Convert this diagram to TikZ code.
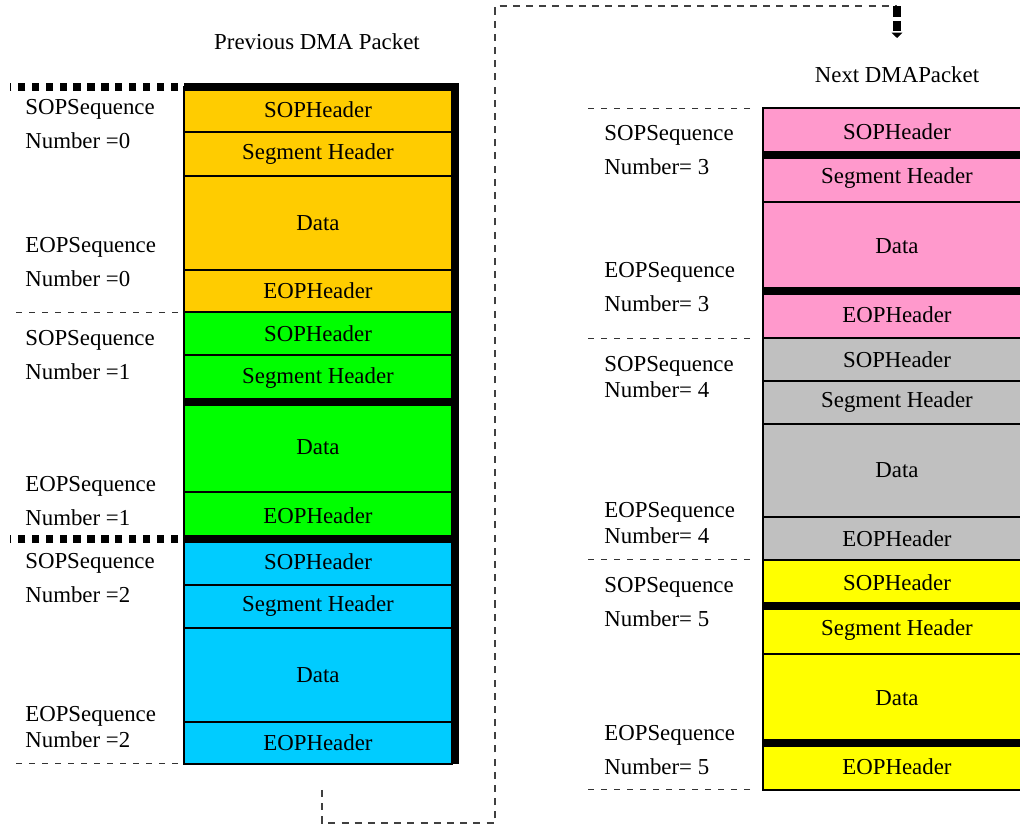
\documentclass[tikz,border=0pt]{standalone}
\usepackage{fontspec}
\setmainfont{Liberation Serif}
\usetikzlibrary{arrows.meta,positioning,calc}

\definecolor{prevA}{HTML}{FFCC00}
\definecolor{prevB}{HTML}{00FF00}
\definecolor{prevC}{HTML}{00CCFF}
\definecolor{nextA}{HTML}{FF99CC}
\definecolor{nextB}{HTML}{C0C0C0}
\definecolor{nextC}{HTML}{FFFF00}
\newcommand{\pktfont}{\fontsize{13}{19.3}\selectfont}

\begin{document}
\begin{tikzpicture}[x=0.02cm,y=-0.02cm,>=Latex,node distance=0pt]
  \tikzstyle{cell}=[draw,line width=0.8pt,minimum width=5.36cm,inner sep=0pt,outer sep=0pt,font=\pktfont]
  \tikzstyle{seqlab}=[anchor=west,align=left,inner sep=0pt,font=\pktfont]
  \tikzstyle{bar}=[line width=4.5pt]
  \tikzstyle{marker}=[line width=4.5pt,dash pattern=on 4.2pt off 3.7pt]
  \tikzstyle{guide}=[line width=0.5pt,black!80,dash pattern=on 3.4pt off 4pt]
  \tikzstyle{link}=[line width=0.6pt,black!75,dash pattern=on 4pt off 3.5pt]
  \useasboundingbox (0,0) rectangle (1020,825);
  \clip (0,0) rectangle (1020,825);

  % previous packet
  \node[font=\pktfont] (prevtitle) at (317,42) {Previous DMA Packet};
  \node[cell,fill=prevA,minimum height=0.90cm,anchor=north west] (sopA) at (184,87) {SOPHeader};
  \node[cell,fill=prevA,minimum height=0.88cm,below=of sopA] (segA) {Segment Header};
  \node[cell,fill=prevA,minimum height=1.88cm,below=of segA] (dataA) {Data};
  \node[cell,fill=prevA,minimum height=0.84cm,below=of dataA] (eopA) {EOPHeader};
  \node[cell,fill=prevB,minimum height=0.86cm,below=of eopA] (sopB) {SOPHeader};
  \node[cell,fill=prevB,minimum height=0.94cm,below=of sopB] (segB) {Segment Header};
  \node[cell,fill=prevB,minimum height=1.80cm,below=of segB] (dataB) {Data};
  \node[cell,fill=prevB,minimum height=0.94cm,below=of dataB] (eopB) {EOPHeader};
  \node[cell,fill=prevC,minimum height=0.92cm,below=of eopB] (sopC) {SOPHeader};
  \node[cell,fill=prevC,minimum height=0.86cm,below=of sopC] (segC) {Segment Header};
  \node[cell,fill=prevC,minimum height=1.88cm,below=of segC] (dataC) {Data};
  \node[cell,fill=prevC,minimum height=0.84cm,below=of dataC] (eopC) {EOPHeader};
  \draw[bar] (sopA.north west) -| ($(eopC.south east)+(3.5,0)$);
  \draw[bar] (segB.south west) -- (segB.south east);
  \draw[bar] (eopB.south west) -- (eopB.south east);

  \node[seqlab] (labsopA) at (25,124) {SOPSequence\\Number =0};
  \node[seqlab] (labeopA) at (25,262) {EOPSequence\\Number =0};
  \node[seqlab] (labsopB) at (25,355) {SOPSequence\\Number =1};
  \node[seqlab] (labeopB) at (25,501) {EOPSequence\\Number =1};
  \node[seqlab] (labsopC) at (25,578) {SOPSequence\\Number =2};
  \node[seqlab] (labeopC) at (25,727) {EOPSequence\\[-4.5pt]Number =2};
  \draw[marker] (sopA.north west) ++(-6,0) -- ++(-168,0);
  \draw[marker] (eopB.south west) ++(-6,0) -- ++(-168,0);
  \draw[guide] (eopA.south west) ++(-6,0) -- ++(-168,0);
  \draw[guide] (eopC.south west) ++(-6,0) -- ++(-168,0);

  % next packet
  \node[font=\pktfont] (nexttitle) at (897,75) {Next DMAPacket};
  \node[cell,fill=nextA,minimum height=0.94cm,anchor=north west] (sopD) at (763,108) {SOPHeader};
  \node[cell,fill=nextA,minimum height=0.94cm,below=of sopD] (segD) {Segment Header};
  \node[cell,fill=nextA,minimum height=1.78cm,below=of segD] (dataD) {Data};
  \node[cell,fill=nextA,minimum height=0.94cm,below=of dataD] (eopD) {EOPHeader};
  \node[cell,fill=nextB,minimum height=0.86cm,below=of eopD] (sopE) {SOPHeader};
  \node[cell,fill=nextB,minimum height=0.86cm,below=of sopE] (segE) {Segment Header};
  \node[cell,fill=nextB,minimum height=1.86cm,below=of segE] (dataE) {Data};
  \node[cell,fill=nextB,minimum height=0.86cm,below=of dataE] (eopE) {EOPHeader};
  \node[cell,fill=nextC,minimum height=0.92cm,below=of eopE] (sopF) {SOPHeader};
  \node[cell,fill=nextC,minimum height=0.96cm,below=of sopF] (segF) {Segment Header};
  \node[cell,fill=nextC,minimum height=1.78cm,below=of segF] (dataF) {Data};
  \node[cell,fill=nextC,minimum height=0.94cm,below=of dataF] (eopF) {EOPHeader};
  \draw[bar] (sopD.south west) -- (sopD.south east);
  \draw[bar] (dataD.south west) -- (dataD.south east);
  \draw[bar] (sopF.south west) -- (sopF.south east);
  \draw[bar] (dataF.south west) -- (dataF.south east);

  \node[seqlab] (labsopD) at (604,150) {SOPSequence\\Number= 3};
  \node[seqlab] (labeopD) at (604,287) {EOPSequence\\Number= 3};
  \node[seqlab] (labsopE) at (604,377) {SOPSequence\\[-4.5pt]Number= 4};
  \node[seqlab] (labeopE) at (604,523) {EOPSequence\\[-4.5pt]Number= 4};
  \node[seqlab] (labsopF) at (604,602) {SOPSequence\\Number= 5};
  \node[seqlab] (labeopF) at (604,750) {EOPSequence\\Number= 5};
  \draw[guide] (sopD.north west) ++(-13,0) -- ++(-162,0);
  \draw[guide] (eopD.south west) ++(-13,0) -- ++(-162,0);
  \draw[guide] (eopE.south west) ++(-13,0) -- ++(-162,0);
  \draw[guide] (eopF.south west) ++(-13,0) -- ++(-162,0);

  % link between the packets
  \coordinate (leave) at ($(eopC.south)+(4,26)$);
  \coordinate (enter) at (nexttitle.north |- 0,6);
  \draw[link] (leave) |- (495,823) |- (enter);
  \draw[line width=4.5pt,dash pattern=on 6pt off 2.5pt,-{Triangle[length=3pt,width=6pt]}] (enter) -- ++(0,32);
\end{tikzpicture}
\end{document}
